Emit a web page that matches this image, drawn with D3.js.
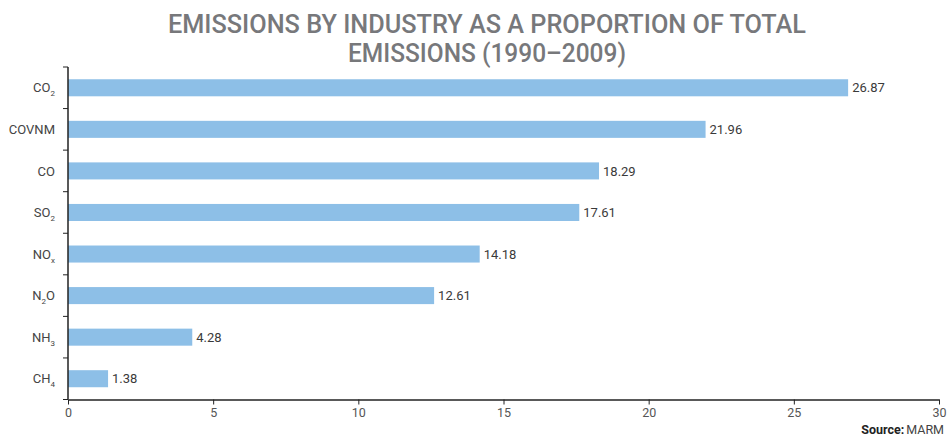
<!DOCTYPE html>
<html>
<head>
<meta charset="utf-8">
<script src="https://cdn.jsdelivr.net/npm/d3@7"></script>
<style>
  html, body { margin: 0; padding: 0; background: #fff; }
  svg { display: block; }
  text { font-family: Roboto, "DejaVu Sans", sans-serif; }
</style>
</head>
<body>
<svg id="chart" width="948" height="438"></svg>
<script>
// Pollutants, top to bottom; "_x" marks a subscript character
const categories = ["CO_2", "COVNM", "CO", "SO_2", "NO_x", "N_2O", "NH_3", "CH_4"];
const values = [26.87, 21.96, 18.29, 17.61, 14.18, 12.61, 4.28, 1.38];
const xTicks = [0, 5, 10, 15, 20, 25, 30];
const titleLines = ["EMISSIONS BY INDUSTRY AS A PROPORTION OF TOTAL", "EMISSIONS (1990–2009)"];

const svg = d3.select("#chart");
const plotLeft = 68, plotRight = 939, plotTop = 67, plotBottom = 399.5;

const x = d3.scaleLinear().domain([0, 30]).range([plotLeft, plotRight]);
const y = d3.scaleBand().domain(categories).range([plotTop, plotBottom])
  .paddingInner(0.59).paddingOuter(0.295);

// Title
svg.append("g").selectAll("text").data(titleLines).join("text")
  .attr("x", 487).attr("y", (d, i) => 33 + i * 29)
  .attr("text-anchor", "middle")
  .attr("fill", "#77787b")
  .attr("font-size", 25)
  .attr("font-weight", 500)
  .attr("textLength", (d, i) => i === 0 ? 638 : 278)
  .attr("lengthAdjust", "spacingAndGlyphs")
  .text(d => d);

// Bars
svg.append("g").selectAll("rect").data(values).join("rect")
  .attr("x", x(0))
  .attr("y", (d, i) => y(categories[i]))
  .attr("width", d => x(d) - x(0))
  .attr("height", y.bandwidth())
  .attr("fill", "#8dbfe7");

// Value labels
svg.append("g").selectAll("text").data(values).join("text")
  .attr("x", d => x(d) + 4)
  .attr("y", (d, i) => y(categories[i]) + y.bandwidth() / 2)
  .attr("dy", "0.36em")
  .attr("font-size", 13)
  .attr("fill", "#3a3a3a")
  .text(d => d.toFixed(2));

// X axis
const xAxis = svg.append("g")
  .attr("transform", `translate(0,${plotBottom})`)
  .call(d3.axisBottom(x).tickValues(xTicks).tickSize(5).tickSizeOuter(0).tickPadding(4));
xAxis.select(".domain").attr("stroke", "#222").attr("stroke-width", 1.5);
xAxis.selectAll(".tick line").attr("stroke", "#222");
xAxis.selectAll(".tick text").attr("font-size", 12.5).attr("fill", "#555")
  .attr("font-family", "Roboto, sans-serif");

// Y axis: line with ticks at band boundaries
const yAxis = svg.append("g");
yAxis.append("line")
  .attr("x1", plotLeft).attr("x2", plotLeft)
  .attr("y1", plotTop).attr("y2", plotBottom)
  .attr("stroke", "#222").attr("stroke-width", 1.5);
const boundaries = d3.range(categories.length + 1).map(i => plotTop + i * y.step());
yAxis.selectAll("line.tk").data(boundaries).join("line")
  .attr("class", "tk")
  .attr("x1", plotLeft - 5).attr("x2", plotLeft)
  .attr("y1", d => d).attr("y2", d => d)
  .attr("stroke", "#222");

// Category labels with subscripts
const labels = svg.append("g").selectAll("text").data(categories).join("text")
  .attr("x", 55)
  .attr("y", d => y(d) + y.bandwidth() / 2)
  .attr("dy", "0.36em")
  .attr("text-anchor", "end")
  .attr("font-size", 13)
  .attr("fill", "#444");
labels.each(function(d) {
  const t = d3.select(this);
  const parts = d.split(/(_.)/).filter(s => s.length);
  parts.forEach(p => {
    if (p[0] === "_") {
      t.append("tspan").attr("font-size", 8).attr("baseline-shift", -4).text(p[1]);
    } else {
      t.append("tspan").text(p);
    }
  });
});

// Source note
const src = svg.append("text")
  .attr("x", 944).attr("y", 434)
  .attr("text-anchor", "end")
  .attr("font-size", 12.5)
  .attr("fill", "#222");
src.append("tspan").attr("font-weight", "bold").text("Source:");
src.append("tspan").attr("dx", 2).attr("fill", "#444").text("MARM");
</script>
</body>
</html>
